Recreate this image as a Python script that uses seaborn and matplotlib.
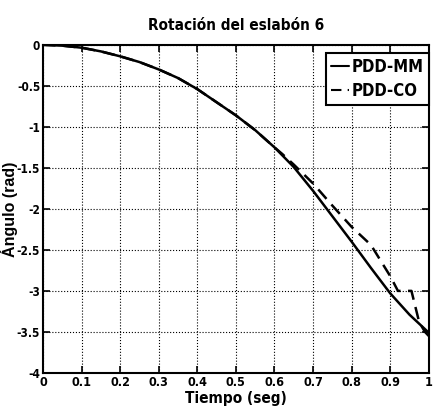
import matplotlib
matplotlib.use("Agg")
import matplotlib.pyplot as plt
import seaborn as sns
import pandas as pd

# Time samples (s) and link-6 rotation (rad) for each controller
t_mm = [0, 0.05, 0.1, 0.15, 0.2, 0.25, 0.3, 0.35, 0.4, 0.45, 0.5, 0.55,
        0.6, 0.65, 0.7, 0.75, 0.8, 0.85, 0.9, 0.95, 0.975, 1.0]
ang_mm = [0, -0.01, -0.035, -0.08, -0.14, -0.21, -0.30, -0.405, -0.54, -0.70,
          -0.86, -1.04, -1.25, -1.49, -1.78, -2.09, -2.40, -2.72, -3.03, -3.29,
          -3.40, -3.51]

t_co = [0, 0.05, 0.1, 0.15, 0.2, 0.25, 0.3, 0.35, 0.4, 0.45, 0.5, 0.55,
        0.6, 0.62, 0.65, 0.7, 0.75, 0.8, 0.85, 0.9, 0.92, 0.955, 0.975, 0.99, 1.0]
ang_co = [0, -0.01, -0.035, -0.08, -0.14, -0.21, -0.30, -0.405, -0.54, -0.70,
          -0.86, -1.04, -1.25, -1.33, -1.46, -1.69, -1.96, -2.22, -2.44, -2.82,
          -3.0, -3.0, -3.38, -3.50, -3.55]

labels = ["PDD-MM", "PDD-CO"]
x_ticks = [0, 0.1, 0.2, 0.3, 0.4, 0.5, 0.6, 0.7, 0.8, 0.9, 1]
x_ticklabels = ["0", "0.1", "0.2", "0.3", "0.4", "0.5", "0.6", "0.7", "0.8", "0.9", "1"]
y_ticks = [0, -0.5, -1, -1.5, -2, -2.5, -3, -3.5, -4]
y_ticklabels = ["0", "-0.5", "-1", "-1.5", "-2", "-2.5", "-3", "-3.5", "-4"]

df = pd.concat([
    pd.DataFrame({"t": t_mm, "ang": ang_mm, "ctrl": labels[0]}),
    pd.DataFrame({"t": t_co, "ang": ang_co, "ctrl": labels[1]}),
], ignore_index=True)

sns.set_style("ticks")
plt.rcParams["font.family"] = ["DejaVu Sans"]
plt.rcParams["font.stretch"] = "condensed"
plt.rcParams["font.weight"] = "bold"
for key in ("text.color", "axes.labelcolor", "xtick.color", "ytick.color"):
    plt.rcParams[key] = "black"

cond = dict(fontweight="bold", fontstretch="condensed", color="black")

fig = plt.figure(figsize=(4.33, 4.19), dpi=100)
ax = fig.add_axes([0.0993, 0.110, 0.891, 0.783])

sns.lineplot(data=df, x="t", y="ang", hue="ctrl", style="ctrl",
             palette=["black", "black"], dashes=[(None, None), (5, 3)],
             linewidth=1.8, sort=False, estimator=None, ax=ax)

ax.set_xlim(0, 1)
ax.set_ylim(-4, 0)
ax.set_xticks(x_ticks)
ax.set_xticklabels(x_ticklabels, fontsize=9, **cond)
ax.set_yticks(y_ticks)
ax.set_yticklabels(y_ticklabels, fontsize=8.5, **cond)
ax.tick_params(direction="in", top=True, right=True, length=5, width=1.2, pad=2)
ax.grid(True, color="black", linestyle=":", linewidth=0.8)
for s in ax.spines.values():
    s.set_color("black")
    s.set_linewidth(1.5)

ax.set_title("Rotación del eslabón 6", fontsize=11, pad=11, **cond)
ax.set_xlabel("Tiempo (seg)", fontsize=11, labelpad=2, **cond)
ax.set_ylabel("Ángulo (rad)", fontsize=11.5, fontweight="bold",
              family=["Liberation Sans", "DejaVu Sans"], fontstretch="normal",
              color="black")
ax.yaxis.set_label_coords(-0.066, 0.5)

leg = ax.legend(loc="upper right", bbox_to_anchor=(1.0, 0.976), fontsize=12,
                frameon=True, fancybox=False, handlelength=1.1,
                handletextpad=0.15, borderpad=0.3, labelspacing=0.35,
                borderaxespad=0.0)
leg.get_frame().set_edgecolor("black")
leg.get_frame().set_linewidth(1.5)
leg.get_frame().set_alpha(1)
for txt in leg.get_texts():
    txt.set_fontweight("bold")
    txt.set_fontstretch("condensed")
for line in leg.get_lines():
    line.set_linewidth(1.5)

fig.savefig("out.png", dpi=100)
